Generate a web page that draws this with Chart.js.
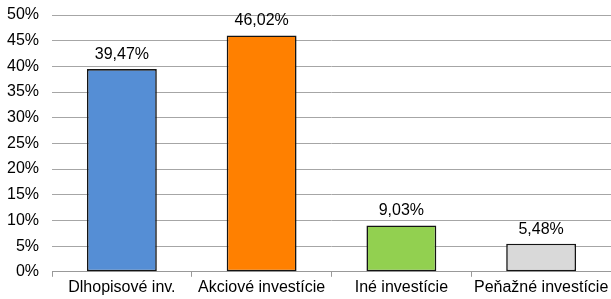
<!DOCTYPE html>
<html>
<head>
<meta charset="utf-8">
<script src="https://cdn.jsdelivr.net/npm/chart.js@4/dist/chart.umd.min.js"></script>
<style>
  html, body { margin: 0; padding: 0; background: #fff; }
  #wrap { width: 611px; height: 299px; }
</style>
</head>
<body>
<div id="wrap"><canvas id="chart" width="611" height="299"></canvas></div>
<script>
// categories and values (percent)
const categories = ['Dlhopisové inv.', 'Akciové investície', 'Iné investície', 'Peňažné investície'];
const shares = [39.47, 46.02, 9.03, 5.48];
const barColors = ['#558ED5', '#FF8000', '#92D050', '#D9D9D9'];

const FONT = '"Liberation Sans", Arial, sans-serif';

// draws the value above each bar
const valueLabels = {
  id: 'valueLabels',
  afterDatasetsDraw(chart) {
    const ctx = chart.ctx;
    const meta = chart.getDatasetMeta(0);
    ctx.save();
    ctx.font = '16px ' + FONT;
    ctx.fillStyle = '#000';
    ctx.textAlign = 'center';
    ctx.textBaseline = 'alphabetic';
    meta.data.forEach((bar, i) => {
      const txt = shares[i].toFixed(2).replace('.', ',') + '%';
      ctx.fillText(txt, bar.x, bar.y - 10);
    });
    ctx.restore();
  }
};

new Chart(document.getElementById('chart').getContext('2d'), {
  type: 'bar',
  data: {
    labels: categories,
    datasets: [{
      data: shares,
      backgroundColor: barColors,
      borderColor: '#141414',
      borderWidth: 1.6,
      borderSkipped: false,
      barPercentage: 0.5,
      categoryPercentage: 1
    }]
  },
  options: {
    responsive: false,
    animation: false,
    layout: { padding: { top: 0, right: 0, left: 7, bottom: 1 } },
    plugins: { legend: { display: false }, tooltip: { enabled: false } },
    scales: {
      x: {
        grid: { display: true, drawOnChartArea: false, drawTicks: true, tickLength: 5, color: '#999', offset: true },
        border: { display: true, color: '#999' },
        ticks: { color: '#000', font: { family: FONT, size: 16 }, padding: 1, maxRotation: 0, autoSkip: false },
        afterFit: s => { s.paddingLeft = 0; s.paddingRight = 0; }
      },
      y: {
        min: 0,
        max: 50,
        grid: { color: '#a6a6a6', drawTicks: false },
        border: { display: false },
        ticks: {
          stepSize: 5,
          color: '#000',
          padding: 13,
          font: { family: FONT, size: 16 },
          callback: v => v + '%'
        },
        afterFit: s => { s.width = 45; s.paddingTop = 15; s.paddingBottom = 0; }
      }
    }
  },
  plugins: [valueLabels]
});
</script>
</body>
</html>
